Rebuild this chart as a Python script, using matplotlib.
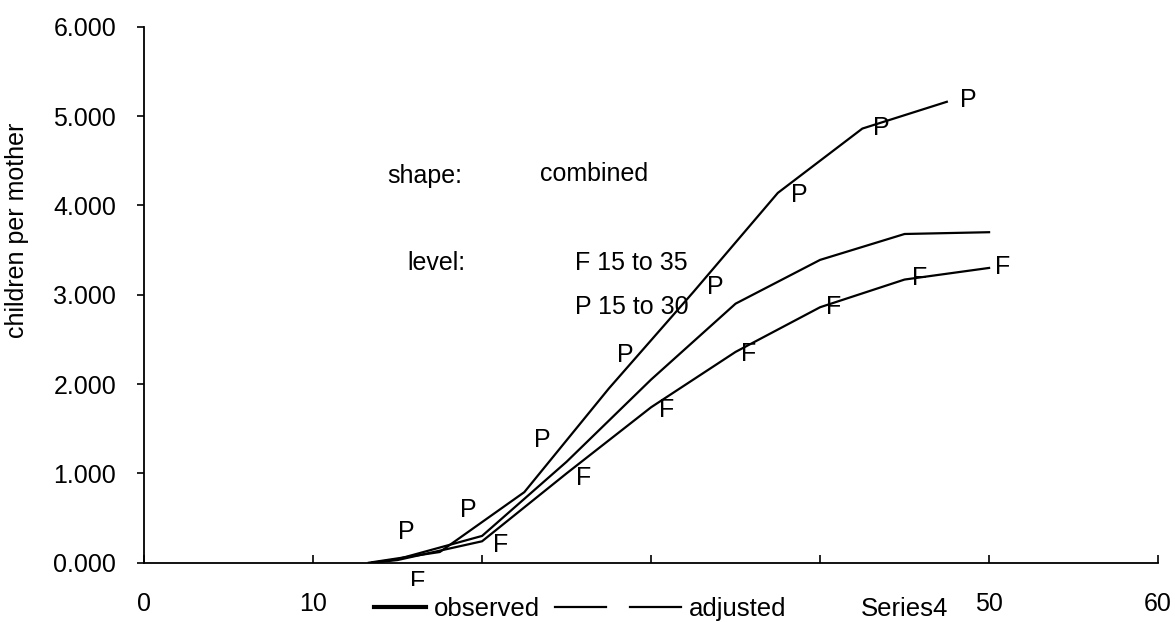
import matplotlib
matplotlib.use("Agg")
import matplotlib.pyplot as plt
from matplotlib.lines import Line2D

plt.rcParams['font.family'] = ['Liberation Sans', 'DejaVu Sans']

# parity (P) at mid-ages, cumulated fertility (F) at exact ages
p_age = [13.3, 17.5, 22.5, 27.5, 32.5, 37.5, 42.5, 47.5]
p_obs = [0.0, 0.12, 0.79, 1.95, 3.03, 4.14, 4.86, 5.16]

f_age = [13.5, 15, 20, 25, 30, 35, 40, 45, 50]
f_adj = [0.0, 0.04, 0.30, 1.13, 2.05, 2.90, 3.39, 3.68, 3.70]
f_obs = [0.0, 0.03, 0.24, 1.00, 1.74, 2.36, 2.86, 3.17, 3.30]

# letter markers
p_lab_x = [15.5, 19.2, 23.55, 28.5, 33.8, 38.75, 43.6, 48.75]
p_lab_y = [0.34, 0.59, 1.37, 2.32, 3.09, 4.12, 4.87, 5.18]
f_lab_x = [16.2, 21.1, 26.0, 30.9, 35.8, 40.8, 45.9, 50.8]
f_lab_y = [-0.22, 0.20, 0.95, 1.71, 2.34, 2.86, 3.19, 3.31]

x_ticks = [0, 10, 20, 30, 40, 50, 60]
x_tick_labels = ['0', '10', '', '', '', '50', '60']   # 20-40 sit under the legend
y_ticks = [0, 1, 2, 3, 4, 5, 6]

fig = plt.figure(figsize=(11.75, 6.22), dpi=100)
ax = fig.add_axes([0.1226, 0.0953, 0.863, 0.8617])

ax.plot(p_age, p_obs, color='black', lw=1.6)
ax.plot(f_age, f_obs, color='black', lw=1.6)
ax.plot(f_age, f_adj, color='black', lw=1.6)

for x, y in zip(p_lab_x, p_lab_y):
    ax.text(x, y, 'P', fontsize=18, ha='center', va='center', clip_on=False, zorder=3)
for x, y in zip(f_lab_x, f_lab_y):
    ax.text(x, y, 'F', fontsize=18, ha='center', va='center', clip_on=False, zorder=3)

ax.text(14.4, 4.33, 'shape:', fontsize=18, ha='left', va='center')
ax.text(23.4, 4.35, 'combined', fontsize=18, ha='left', va='center')
ax.text(15.6, 3.35, 'level:', fontsize=18, ha='left', va='center')
ax.text(25.5, 3.35, 'F 15 to 35', fontsize=18, ha='left', va='center')
ax.text(25.5, 2.86, 'P 15 to 30', fontsize=18, ha='left', va='center')

ax.set_xlim(0, 60)
ax.set_ylim(0, 6)
ax.set_xticks(x_ticks)
ax.set_xticklabels(x_tick_labels)
ax.set_yticks(y_ticks)
ax.set_yticklabels([f"{v:.3f}" for v in y_ticks])
ax.tick_params(axis='x', direction='in', length=6, width=1.2, pad=21, labelsize=18)
ax.tick_params(axis='y', direction='out', length=5, width=1.2, pad=15, labelsize=18)

for s in ['top', 'right']:
    ax.spines[s].set_visible(False)
for s in ['left', 'bottom']:
    ax.spines[s].set_linewidth(1.3)

ax.set_ylabel('children per mother', fontsize=18)
ax.yaxis.set_label_coords(-0.113, 0.62)

handles = [
    Line2D([], [], color='black', lw=3.0),
    Line2D([], [], color='black', lw=1.6),
    Line2D([], [], color='black', lw=1.6),
    Line2D([], [], color='none'),
]
labels = ['observed', '', 'adjusted', 'Series4']
leg = ax.legend(handles, labels, loc='center', bbox_to_anchor=(0.51, -0.087),
                ncol=4, fontsize=18.5, frameon=True, framealpha=1.0,
                facecolor='white', edgecolor='none', fancybox=False,
                handlelength=2.0, handletextpad=0.3, columnspacing=0.6,
                borderpad=0.45)
leg.set_zorder(10)

fig.savefig('out.png', dpi=100, facecolor='white')
